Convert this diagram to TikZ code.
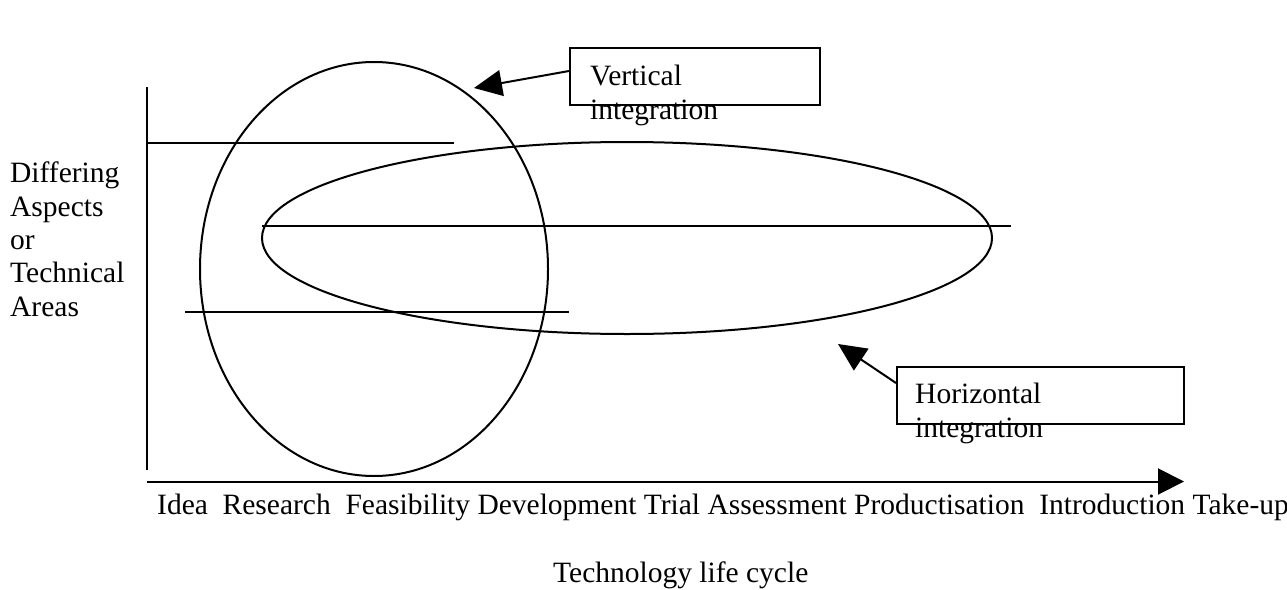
\documentclass[tikz,border=0pt]{standalone}
\usepackage{fontspec}
\setmainfont{Liberation Serif}
\usetikzlibrary{arrows.meta}
\begin{document}
\begin{tikzpicture}[x=1pt,y=-1pt,
  every node/.style={font=\fontsize{29.5}{34}\selectfont},
  ln/.style={line width=2pt},
  tipped/.style={ln,-{Triangle[length=28pt,width=26pt]}},
  labelbox/.style={draw,line width=2pt,inner sep=0pt,anchor=north west},
  txt/.style={inner sep=0pt,align=left,anchor=north west}]
\useasboundingbox (0,0) rectangle (1287,589);
% axes
\coordinate (ytop) at (147,87);
\coordinate (ybot) at (147,470);
\coordinate (xorg) at (147,481.5);
\coordinate (xend) at (1184,481.5);
\draw[ln] (ytop) -- (ybot);
\draw[ln,-{Triangle[length=26pt,width=26pt]}] (xorg) -- (xend);
% horizontal bars
\coordinate (b1a) at (147,143);  \coordinate (b1b) at (454,143);
\coordinate (b2a) at (262,226);  \coordinate (b2b) at (1011,226);
\coordinate (b3a) at (185,312);  \coordinate (b3b) at (569,312);
\draw[ln] (b1a) -- (b1b);
\draw[ln] (b2a) -- (b2b);
\draw[ln] (b3a) -- (b3b);
% ellipses
\draw[ln] (374,269) ellipse [x radius=174, y radius=207];
\draw[ln] (627,238) ellipse [x radius=365, y radius=96];
% label boxes
\node[labelbox,minimum width=250pt,minimum height=57pt] (vbox) at (569,47) {};
\node[txt] (vtext) at (590,65) {Vertical\\integration};
\node[labelbox,minimum width=287pt,minimum height=57pt] (hbox) at (896,366) {};
\node[txt] (htext) at (915,383) {Horizontal\\integration};
% arrows
\coordinate (vtip) at (474,88);
\coordinate (htip) at (838,344);
\draw[tipped] ([yshift=5.5pt]vbox.west) -- (vtip);
\draw[tipped] ([yshift=12.5pt]hbox.west) -- (htip);
% axis labels
\node[txt,font=\fontsize{29.5}{33.3}\selectfont] (ylab) at (10,162) {Differing\\Aspects\\or\\Technical\\Areas};
\node[inner sep=0pt,anchor=base west] (stages) at (157,514) {Idea\ \ Research\ \ Feasibility Development Trial Assessment Productisation\ \ Introduction Take-up};
\node[inner sep=0pt,anchor=base west] (xlab) at (553,582) {Technology life cycle};
\end{tikzpicture}
\end{document}
